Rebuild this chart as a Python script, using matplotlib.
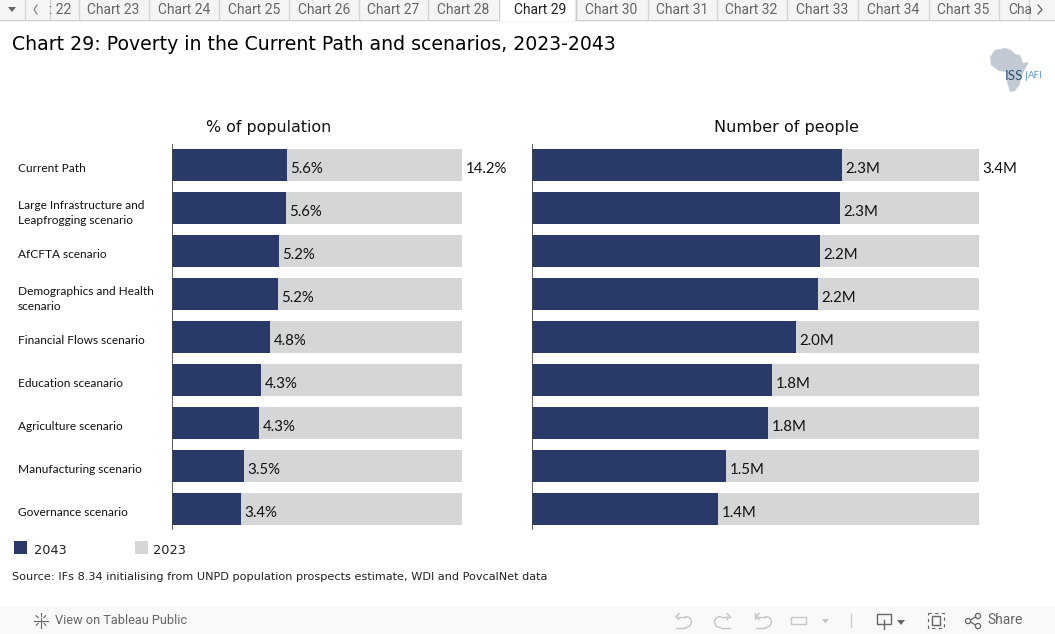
import matplotlib
matplotlib.use("Agg")
import matplotlib.pyplot as plt
from matplotlib.patches import Rectangle, Polygon, Circle, Arc
from matplotlib.transforms import ScaledTranslation

W, H = 1055, 634

# ---- data ----
scenarios = ["Current Path", "Large Infrastructure and\nLeapfrogging scenario", "AfCFTA scenario",
             "Demographics and Health\nscenario", "Financial Flows scenario", "Education sceanario",
             "Agriculture scenario", "Manufacturing scenario", "Governance scenario"]
pct_2043 = [5.63, 5.58, 5.24, 5.19, 4.80, 4.36, 4.26, 3.53, 3.38]
pct_2023 = [14.2] * 9
pct_labels = ["5.6%", "5.6%", "5.2%", "5.2%", "4.8%", "4.3%", "4.3%", "3.5%", "3.4%"]
pct_2023_label = "14.2%"
people_2043 = [2.358, 2.343, 2.19, 2.175, 2.008, 1.826, 1.795, 1.476, 1.415]
people_2023 = [3.4] * 9
people_labels = ["2.3M", "2.3M", "2.2M", "2.2M", "2.0M", "1.8M", "1.8M", "1.5M", "1.4M"]
people_2023_label = "3.4M"
tab_names = [": 22", "Chart 23", "Chart 24", "Chart 25", "Chart 26", "Chart 27", "Chart 28", "Chart 29",
             "Chart 30", "Chart 31", "Chart 32", "Chart 33", "Chart 34", "Chart 35", "Cha"]

NAVY, GREY = "#2a3a68", "#d5d6d8"
SANS = "Lato"

fig = plt.figure(figsize=(W / 100, H / 100), dpi=100, facecolor="white")

# pixel-space overlay for page furniture
pg = fig.add_axes([0, 0, 1, 1], zorder=0)
pg.set_xlim(0, W); pg.set_ylim(H, 0); pg.axis("off")


def data_axes(x0, x1, y0=144, y1=529):
    ax = fig.add_axes([x0 / W, 1 - y1 / H, (x1 - x0) / W, (y1 - y0) / H], zorder=2)
    ax.patch.set_alpha(0)
    for s in ("top", "right", "bottom"):
        ax.spines[s].set_visible(False)
    ax.spines["left"].set_color("#444444"); ax.spines["left"].set_linewidth(0.6)
    ax.set_ylim((y1 - 165) / 43, (y0 - 165) / 43)
    ax.set_xticks([])
    return ax


def draw(ax, new, old, labels, old_label, xmax):
    ys = range(len(new))
    ax.set_xlim(0, xmax)
    ax.barh(ys, old, height=32 / 43, color=GREY, linewidth=0)
    ax.barh(ys, new, height=32 / 43, color=NAVY, linewidth=0)
    ax.set_yticks([])
    for y, v, t in zip(ys, new, labels):
        ax.annotate(t, (v, y), xytext=(2.6, -3.2), textcoords="offset points", va="center", ha="left",
                    fontsize=10.8, family=SANS, color="#111111")
    ax.annotate(old_label, (old[0], 0), xytext=(2.6, -3.2), textcoords="offset points", va="center", ha="left",
                fontsize=10.8, family=SANS, color="#111111", annotation_clip=False)


ax1 = data_axes(172, 462)
draw(ax1, pct_2043, pct_2023, pct_labels, pct_2023_label, 14.2)
ax1.set_yticks(range(len(scenarios)))
ax1.set_yticklabels(scenarios, fontsize=8.6, family=SANS, color="#111111", ha="left", linespacing=1.45)
ax1.tick_params(axis="y", length=0, pad=111)
shift = ScaledTranslation(0, -1.5 / 72, fig.dpi_scale_trans)
for lab in ax1.get_yticklabels():
    lab.set_transform(lab.get_transform() + shift)

ax2 = data_axes(532, 979)
draw(ax2, people_2043, people_2023, people_labels, people_2023_label, 3.4)

# panel titles
pg.text(268.5, 127.5, "% of population", ha="center", va="center", fontsize=11.4, family="DejaVu Sans", color="#111111")
pg.text(787, 127.5, "Number of people", ha="center", va="center", fontsize=11.5, family="DejaVu Sans", color="#111111")

# title, legend, source
pg.text(12, 44.5, "Chart 29: Poverty in the Current Path and scenarios, 2023-2043", ha="left", va="center",
        fontsize=13.6, family="DejaVu Sans", color="black")
pg.add_patch(Rectangle((14, 541), 13, 13, color=NAVY, lw=0))
pg.text(34, 550, "2043", ha="left", va="center", fontsize=9.3, family="DejaVu Sans", color="#222222")
pg.add_patch(Rectangle((135, 541), 13, 13, color=GREY, lw=0))
pg.text(153, 550, "2023", ha="left", va="center", fontsize=9.3, family="DejaVu Sans", color="#222222")
pg.text(12, 577.5, "Source: IFs 8.34 initialising from UNPD population prospects estimate, WDI and PovcalNet data",
        ha="left", va="center", fontsize=8.1, family="DejaVu Sans", color="#222222")

# tab strip
pg.add_patch(Rectangle((0, 0), W, 19, color="#f5f5f5", lw=0))
pg.plot([0, W], [19.5, 19.5], color="#cccccc", lw=1)
seps = [24, 49, 78, 148, 218, 288, 358, 427, 498, 575, 647, 716, 786, 857, 928, 998, 1028]
for s in seps:
    pg.plot([s + .5, s + .5], [0, 19], color="#d4d4d4", lw=1)
pg.add_patch(Rectangle((498, 0), 77, 20.5, color="white", lw=0, zorder=3))
pg.plot([498.5, 498.5], [0, 20], color="#cccccc", lw=1, zorder=4)
pg.plot([575.5, 575.5], [0, 20], color="#cccccc", lw=1, zorder=4)
centers = [60, 113, 184, 254, 324, 393, 463, 540, 611, 682, 751, 822, 893, 963, 1020]
for name, c in zip(tab_names, centers):
    active = name == "Chart 29"
    pg.text(c, 9.5, name, ha="center", va="center", fontsize=10, family="Roboto",
            color="#222222" if active else "#666666", zorder=5, clip_on=True)
pg.add_patch(Polygon([(8, 7), (16, 7), (12, 12)], color="#666666", lw=0))
pg.plot([37, 34, 37], [5, 9.5, 14], color="#888888", lw=0.9)
pg.plot([1038, 1042, 1038], [5, 9.5, 14], color="#666666", lw=0.9)

# logo
africa = [(990, 57), (995, 50), (1005, 48), (1011, 50), (1015, 54), (1020, 55), (1023, 63), (1029, 62),
          (1024, 71), (1021, 78), (1020, 84), (1015, 91), (1010, 92), (1007, 82), (1006, 72), (999, 71), (991, 65)]
pg.add_patch(Polygon(africa, closed=True, color="#c3c9d2", lw=0))
pg.text(1005, 75.5, "ISS", ha="left", va="center", fontsize=9.6, family=SANS, color="#2b5078", zorder=3)
pg.text(1027.5, 75.5, "AFI", ha="left", va="center", fontsize=7, family=SANS, color="#5b9bd5", zorder=3)
pg.plot([1025.5, 1025.5], [71, 80], color="#5b9bd5", lw=0.6, zorder=3)

# footer
pg.add_patch(Rectangle((0, 607), W, 27, color="#f9f9f9", lw=0))
pg.text(55, 620.5, "View on Tableau Public", ha="left", va="center", fontsize=9.2, family="Roboto", color="#666666")
pg.text(987, 620.5, "Share", ha="left", va="center", fontsize=10, family="Roboto", color="#666666")
cx, cy = 41, 620.5
for dx, dy in [(0, -6), (0, 6), (-6, 0), (6, 0), (-4, -4), (4, -4), (-4, 4), (4, 4)]:
    pg.plot([cx + dx * .7, cx + dx * 1.2], [cy + dy * .7, cy + dy * 1.2], color="#666666", lw=0.8)
pg.plot([cx - 3, cx + 3], [cy, cy], color="#666666", lw=0.8)
pg.plot([cx, cx], [cy - 3, cy + 3], color="#666666", lw=0.8)
ic = "#c6c6c6"
pg.add_patch(Arc((685, 622), 13, 11, theta1=-90, theta2=90, color=ic, lw=1))
pg.plot([676, 685], [616.5, 616.5], color=ic, lw=1); pg.plot([676, 685], [627.5, 627.5], color=ic, lw=1)
pg.plot([679, 676, 679], [613.5, 616.5, 619.5], color=ic, lw=1)
pg.add_patch(Arc((721, 622), 13, 11, theta1=90, theta2=270, color=ic, lw=1))
pg.plot([721, 730], [616.5, 616.5], color=ic, lw=1); pg.plot([721, 730], [627.5, 627.5], color=ic, lw=1)
pg.plot([727, 730, 727], [613.5, 616.5, 619.5], color=ic, lw=1)
pg.add_patch(Arc((765, 622), 13, 11, theta1=-90, theta2=90, color=ic, lw=1))
pg.plot([756, 765], [616.5, 616.5], color=ic, lw=1); pg.plot([756, 765], [627.5, 627.5], color=ic, lw=1)
pg.plot([759, 756, 759], [613.5, 616.5, 619.5], color=ic, lw=1)
pg.plot([755, 755], [613, 619], color=ic, lw=1)
pg.add_patch(Rectangle((791, 617), 15, 7, fill=False, ec=ic, lw=1, joinstyle="round"))
pg.add_patch(Polygon([(822, 619), (829, 619), (825.5, 623.5)], color=ic, lw=0))
pg.plot([850.5, 850.5], [614, 627], color="#cccccc", lw=1)
pg.add_patch(Rectangle((877, 614), 14, 10, fill=False, ec="#666666", lw=1))
pg.plot([884, 884], [620, 629], color="#666666", lw=1)
pg.add_patch(Polygon([(897, 620), (905, 620), (901, 625)], color="#666666", lw=0))
pg.add_patch(Rectangle((932, 616), 8, 9, fill=False, ec="#666666", lw=1))
pg.add_patch(Rectangle((928, 613), 16, 15, fill=False, ec="#666666", lw=0.8, ls=(0, (3, 3))))
for c in [(968, 621), (978, 616), (978, 626)]:
    pg.add_patch(Circle(c, 2.6, fill=False, ec="#666666", lw=0.9))
pg.plot([970.5, 975.5], [620, 617], color="#666666", lw=0.9)
pg.plot([970.5, 975.5], [622, 625], color="#666666", lw=0.9)
pg.set_xlim(0, W); pg.set_ylim(H, 0)

fig.savefig("out.png", dpi=100)
